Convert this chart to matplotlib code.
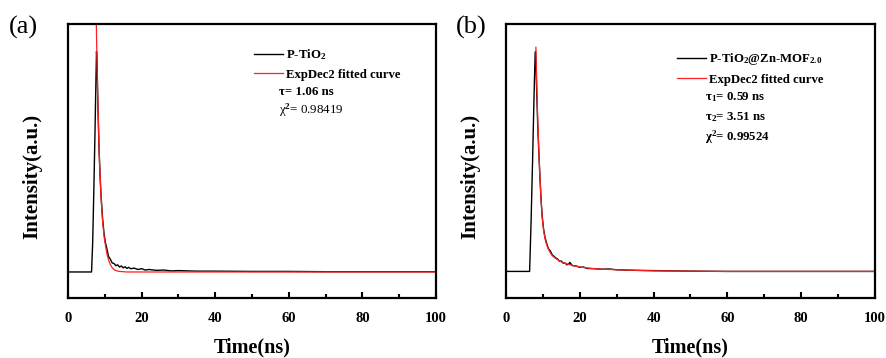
import numpy as np
import matplotlib
matplotlib.use("Agg")
import matplotlib.pyplot as plt
from matplotlib.ticker import MultipleLocator

plt.rcParams['font.family'] = ['Liberation Serif', 'DejaVu Serif']
plt.rcParams['mathtext.fontset'] = 'custom'
plt.rcParams['mathtext.rm'] = 'Liberation Serif:bold'
plt.rcParams['mathtext.it'] = 'Liberation Serif:italic:bold'
plt.rcParams['mathtext.bf'] = 'Liberation Serif:bold'

# ---- panel (a): P-TiO2 ----
a_time = [0, 6.4, 6.7, 7.0, 7.3, 7.6, 7.75, 7.9, 8.1, 8.4,
          8.7, 9.0, 9.4, 9.8, 10.2, 10.6, 11.0, 11.5, 12.0, 12.5,
          13.0, 13.5, 14, 14.5, 15, 15.5, 16, 16.5, 17, 18,
          19, 20, 21, 22, 24, 26, 28, 30, 35, 40,
          50, 60, 70, 80, 90, 100]
a_counts = [0.095, 0.095, 0.20, 0.38, 0.58, 0.80, 0.90, 0.86, 0.72, 0.56,
            0.45, 0.37, 0.29, 0.235, 0.20, 0.178, 0.152, 0.142, 0.128, 0.126,
            0.118, 0.121, 0.113, 0.117, 0.110, 0.114, 0.108, 0.112, 0.107, 0.109,
            0.104, 0.107, 0.102, 0.104, 0.101, 0.102, 0.099, 0.100, 0.098, 0.098,
            0.097, 0.097, 0.096, 0.096, 0.096, 0.096]
a_fit_time = [7.6, 7.7, 7.85, 8.0, 8.2, 8.5, 8.8, 9.1, 9.4, 9.8,
              10.2, 10.6, 11.0, 11.5, 12.0, 12.5, 13.0, 14.0, 16.0, 100]
a_fit = [1.09, 1.00, 0.88, 0.78, 0.67, 0.52, 0.42, 0.34, 0.28, 0.225,
         0.19, 0.16, 0.14, 0.122, 0.111, 0.104, 0.100, 0.097, 0.095, 0.095]

# ---- panel (b): P-TiO2@Zn-MOF2.0 ----
b_time = [0, 6.4, 6.8, 7.2, 7.6, 7.9, 8.0, 8.1, 8.3, 8.6,
          8.9, 9.2, 9.5, 9.8, 10.2, 10.6, 11.0, 11.5, 12.0, 12.5,
          13.0, 13.5, 14, 14.5, 15, 15.5, 16, 16.5, 17, 17.3,
          18, 19, 20, 21, 22, 24, 26, 28, 30, 35,
          40, 50, 60, 70, 80, 90, 100]
b_counts = [0.097, 0.097, 0.28, 0.50, 0.74, 0.89, 0.90, 0.87, 0.76, 0.63,
            0.53, 0.44, 0.36, 0.30, 0.25, 0.22, 0.20, 0.18, 0.172, 0.158,
            0.152, 0.146, 0.142, 0.134, 0.135, 0.127, 0.128, 0.121, 0.124, 0.130,
            0.118, 0.117, 0.112, 0.113, 0.108, 0.107, 0.105, 0.106, 0.103, 0.101,
            0.100, 0.098, 0.097, 0.097, 0.097, 0.097, 0.097]
b_fit_time = [8.1, 8.3, 8.5, 8.7, 8.9, 9.2, 9.5, 9.8, 10.2, 10.6,
              11.0, 11.5, 12.0, 12.5, 13.3, 14.5, 16, 18, 20, 23,
              26, 30, 35, 40, 50, 60, 80, 100]
b_fit = [0.915, 0.80, 0.70, 0.61, 0.535, 0.44, 0.36, 0.295, 0.245, 0.215,
         0.195, 0.178, 0.165, 0.155, 0.146, 0.135, 0.126, 0.119, 0.113, 0.108,
         0.105, 0.103, 0.101, 0.099, 0.098, 0.097, 0.097, 0.097]

a_label = r'P-TiO$_2$'
b_label = r'P-TiO$_2$@Zn-MOF$_{2.0}$'
fit_label = 'ExpDec2 fitted curve'
a_params = [(u'\u03c4= 1.06 ns', 'bold'), (u'\u03c7$^2$= 0.98419', 'normal')]
b_params = [(u'\u03c4$_1$= 0.59 ns', 'bold'), (u'\u03c4$_2$= 3.51 ns', 'bold'),
            (u'\u03c7$^2$= 0.99524', 'bold')]


def style_axes(ax):
    ax.set_xlim(0, 100)
    ax.set_ylim(0, 1)
    ax.set_yticks([])
    ax.xaxis.set_major_locator(MultipleLocator(20))
    ax.xaxis.set_minor_locator(MultipleLocator(10))
    ax.tick_params(axis='x', which='major', direction='in', length=4, width=1.5,
                   pad=10, labelsize=10.5)
    ax.tick_params(axis='x', which='minor', direction='in', length=3, width=1.5)
    for lab in ax.get_xticklabels():
        lab.set_fontweight('bold')
    for sp in ax.spines.values():
        sp.set_linewidth(1.6)
    ax.set_xlabel('Time(ns)', fontsize=14.5, fontweight='bold', labelpad=9)
    ax.set_ylabel('Intensity(a.u.)', fontsize=15, fontweight='bold')
    ax.yaxis.set_label_coords(-0.07, 0.445)


fig = plt.figure(figsize=(8.87, 3.58), dpi=100)
ax1 = fig.add_axes([68 / 887, 60 / 358, 368 / 887, 274 / 358])
ax2 = fig.add_axes([506 / 887, 60 / 358, 369 / 887, 274 / 358])

panels = [
    (ax1, a_time, a_counts, a_fit_time, a_fit, a_label, a_params,
     (0.505, 0.914), 0.573, [0.753, 0.687], '(a)', 9),
    (ax2, b_time, b_counts, b_fit_time, b_fit, b_label, b_params,
     (0.463, 0.901), 0.539, [0.735, 0.662, 0.586], '(b)', 456),
]

for ax, t, y, ft, fy, lab, params, leg_xy, px, pys, tag, tag_x in panels:
    ax.plot(t, y, color='black', lw=1.0, label=lab)
    ax.plot(ft, fy, color='#ff2020', lw=0.9, label=fit_label)
    style_axes(ax)
    ax.legend(loc='upper left', bbox_to_anchor=leg_xy, frameon=False,
              borderaxespad=0, borderpad=0, handlelength=2.3, handletextpad=0.25,
              labelspacing=0.5, prop={'family': 'Liberation Serif', 'weight': 'bold', 'size': 9.2})
    for (txt, w), py in zip(params, pys):
        ax.text(px, py, txt, transform=ax.transAxes, fontsize=9.3, fontweight=w,
                va='center', ha='left')
    fig.text(tag_x / 887, 1 - 27 / 358, tag, fontsize=19, va='center', ha='left')

fig.savefig('out.png', dpi=100)
